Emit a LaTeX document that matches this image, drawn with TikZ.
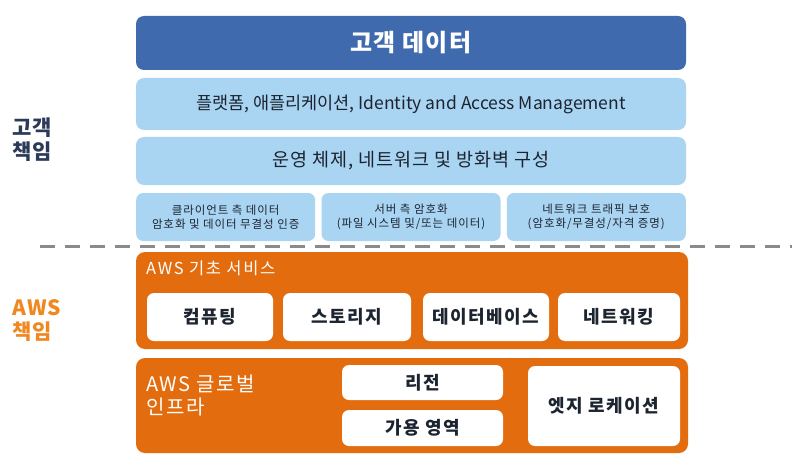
\documentclass[tikz,border=0pt]{standalone}
\usepackage{fontspec}
\setmainfont{Noto Sans CJK KR}
\definecolor{darkblue}{HTML}{3F6AAE}
\definecolor{lightblue}{HTML}{A9D5F3}
\definecolor{awsorange}{HTML}{E36C0E}
\definecolor{labelorange}{HTML}{F0871F}
\definecolor{navy}{HTML}{2B3A58}
\definecolor{textdark}{HTML}{1C2430}
\definecolor{dashgray}{HTML}{8A8A8A}
\newcommand{\ls}[1]{\addfontfeatures{LetterSpace=#1}}
\tikzset{
  bigbox/.style={rounded corners=8pt, inner sep=0pt, minimum width=550pt},
  bluebox/.style={bigbox, fill=lightblue, text=textdark},
  smallbox/.style={rounded corners=7pt, fill=lightblue, text=textdark, inner sep=0pt,
     minimum width=179pt, minimum height=48pt, align=center,
     font=\fontsize{11.5}{14}\selectfont\ls{8}},
  orangebox/.style={rounded corners=9pt, fill=awsorange, inner sep=0pt, minimum width=552pt},
  whitebox/.style={rounded corners=7pt, fill=white, text=textdark, inner sep=0pt,
     font=\bfseries\fontsize{18}{21}\selectfont\ls{8}},
  sidelabel/.style={anchor=west, align=left, inner sep=0pt,
     font=\bfseries\fontsize{21}{24}\selectfont\ls{5}},
}
\begin{document}
\begin{tikzpicture}[x=1pt,y=-1pt]
\useasboundingbox (0,0) rectangle (808,468);
\fill[white] (0,0) rectangle (808,468);
% customer side
\node[bigbox, fill=darkblue, text=white, minimum height=54pt,
      font=\bfseries\fontsize{24}{28}\selectfont\ls{5}] (data) at (411,43) {고객 데이터};
\node[bluebox, minimum height=52pt, font=\fontsize{17.5}{20}\selectfont] (plat) at (411,104)
      {플랫폼, 애플리케이션, Identity and Access Management};
\node[bluebox, minimum height=48pt, font=\fontsize{18.5}{21}\selectfont\ls{5}] (os) at (411,161)
      {운영 체제, 네트워크 및 방화벽 구성};
\node[smallbox] (client) at (225.7,217) {클라이언트 측 데이터\\암호화 및 데이터 무결성 인증};
\node[smallbox] (server) at (411,217) {서버 측 암호화\\(파일 시스템 및/또는 데이터)};
\node[smallbox] (traffic) at (596.3,217) {네트워크 트래픽 보호\\(암호화/무결성/자격 증명)};
% divider
\coordinate (dl) at (40,246);
\coordinate (dr) at (792,246);
\draw[dashgray, line width=3pt, dash pattern=on 15pt off 10pt] (dl) -- (dr);
% left labels
\node[sidelabel, text=navy] (cust) at (12,139.5) {고객\\책임};
\node[sidelabel, text=labelorange] (awsr) at (12,321) {AWS\\책임};
% foundation services
\node[orangebox, minimum height=97pt] (found) at (412,300.5) {};
\node[anchor=west, text=white, font=\fontsize{16.5}{19}\selectfont\ls{10}, inner sep=0pt] (foundlbl) at (146,268) {AWS 기초 서비스};
\node[whitebox, minimum width=126pt, minimum height=48pt] (compute) at (210,317) {컴퓨팅};
\node[whitebox, minimum width=128pt, minimum height=48pt] (storage) at (347,317) {스토리지};
\node[whitebox, minimum width=126pt, minimum height=48pt] (db) at (486,317) {데이터베이스};
\node[whitebox, minimum width=122pt, minimum height=48pt] (net) at (619,317) {네트워킹};
% global infrastructure
\node[orangebox, minimum height=95pt] (global) at (412,405.5) {};
\node[anchor=north west, align=left, text=white, inner sep=0pt,
      font=\fontsize{20}{23}\selectfont\ls{8}] (globallbl) at (146,375) {AWS 글로벌\\인프라};
\node[whitebox, minimum width=161pt, minimum height=35pt] (region) at (422.5,382.5) {리전};
\node[whitebox, minimum width=161pt, minimum height=36pt] (az) at (422.5,428) {가용 영역};
\node[whitebox, minimum width=152pt, minimum height=80pt] (edge) at (604,406) {엣지 로케이션};
\end{tikzpicture}
\end{document}
